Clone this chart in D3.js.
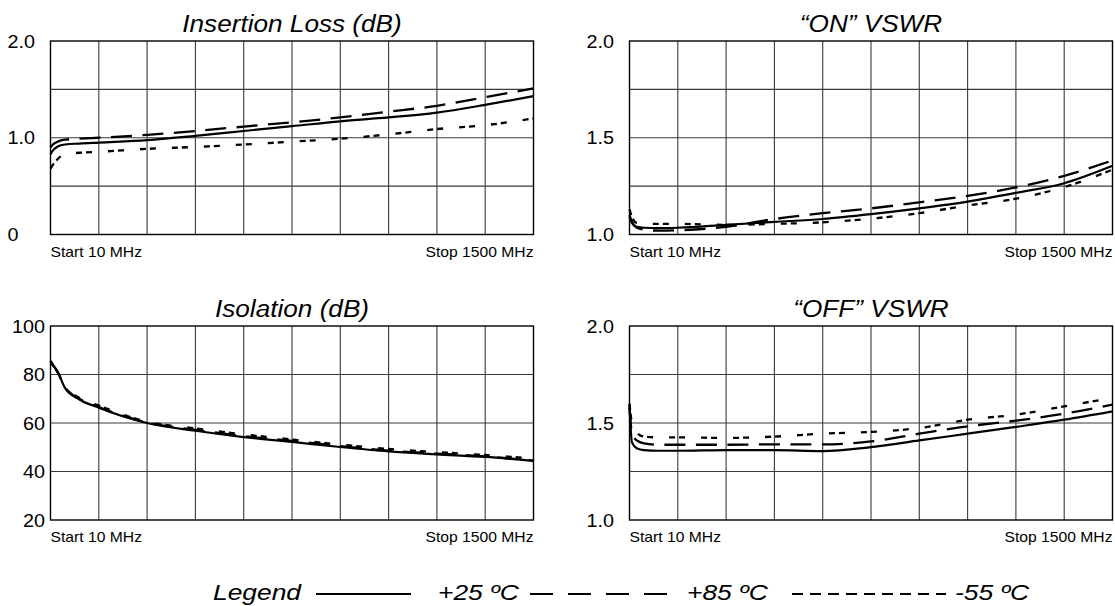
<!DOCTYPE html>
<html><head><meta charset="utf-8">
<script src="https://cdn.jsdelivr.net/npm/d3@7/dist/d3.min.js"></script>
<style>body{margin:0;background:#fff}svg{display:block}</style>
</head><body>
<svg id="chart" width="1115" height="606"></svg>
<script>
// ---- data (frequency sweep 10 MHz .. 1500 MHz) ----
const freqMHz = [10, 17.45, 32.35, 54.7, 99.4, 159, 308, 457, 606, 755, 904, 1053, 1202, 1351, 1500];

const insLoss25  = [0.83, 0.87, 0.91, 0.93, 0.94, 0.95, 0.975, 1.02, 1.07, 1.12, 1.17, 1.21, 1.26, 1.34, 1.43];
const insLoss85  = [0.90, 0.93, 0.96, 0.98, 0.99, 1.00, 1.03, 1.07, 1.115, 1.16, 1.21, 1.27, 1.33, 1.42, 1.51];
const insLossM55 = [0.68, 0.72, 0.78, 0.83, 0.845, 0.855, 0.885, 0.905, 0.93, 0.96, 0.99, 1.035, 1.09, 1.13, 1.20];

const onVswr25  = [1.09, 1.06, 1.04, 1.035, 1.033, 1.035, 1.05, 1.065, 1.08, 1.105, 1.135, 1.17, 1.215, 1.265, 1.355];
const onVswr85  = [1.10, 1.065, 1.035, 1.025, 1.02, 1.022, 1.04, 1.08, 1.11, 1.135, 1.166, 1.20, 1.243, 1.303, 1.383];
const onVswrM55 = [1.13, 1.09, 1.06, 1.055, 1.055, 1.055, 1.05, 1.055, 1.063, 1.082, 1.11, 1.15, 1.185, 1.245, 1.335];

const isol25  = [85.5, 84.0, 81.0, 74.5, 69.7, 66.3, 60.0, 56.8, 54.2, 52.2, 50.1, 48.3, 47.1, 46.0, 44.4];
const isol85  = [85.5, 84.0, 81.0, 74.7, 70.0, 66.6, 60.2, 57.2, 54.6, 52.6, 50.5, 48.6, 47.4, 46.2, 44.5];
const isolM55 = [85.3, 83.8, 80.8, 74.8, 70.3, 67.2, 60.5, 57.8, 55.3, 53.2, 51.1, 49.3, 48.0, 46.8, 45.3];

const offVswr25  = [1.595, 1.40, 1.37, 1.36, 1.357, 1.357, 1.36, 1.36, 1.355, 1.376, 1.41, 1.445, 1.48, 1.517, 1.56];
const offVswr85  = [1.58, 1.45, 1.41, 1.395, 1.388, 1.388, 1.388, 1.39, 1.39, 1.405, 1.445, 1.483, 1.512, 1.548, 1.595];
const offVswrM55 = [1.60, 1.50, 1.45, 1.43, 1.426, 1.426, 1.423, 1.43, 1.445, 1.454, 1.474, 1.517, 1.543, 1.586, 1.63];

const panelTitles = ["Insertion Loss (dB)", "\u201CON\u201D VSWR", "Isolation (dB)", "\u201COFF\u201D VSWR"];
const yDomains = [[0, 2], [1, 2], [20, 100], [1, 2]];
const yTickValues = [[2, 1, 0], [2, 1.5, 1], [100, 80, 60, 40, 20], [2, 1.5, 1]];
const yTickLabels = [["2.0", "1.0", "0"], ["2.0", "1.5", "1.0"], ["100", "80", "60", "40", "20"], ["2.0", "1.5", "1.0"]];
const startLabel = "Start 10 MHz";
const stopLabel = "Stop 1500 MHz";
const xStart = 10, xStop = 1500, xDivisions = 10, yDivisions = 4;

const seriesNames = ["+25 \u00BAC", "+85 \u00BAC", "-55 \u00BAC"];
const panelSeries = [
  [insLoss25, insLoss85, insLossM55],
  [onVswr25, onVswr85, onVswrM55],
  [isol25, isol85, isolM55],
  [offVswr25, offVswr85, offVswrM55]
];

// ---- layout / style ----
const layouts = [
  {left: 50.5, top: 41, w: 483, h: 193.5, labelMode: "start"},
  {left: 629.5, top: 41, w: 483, h: 193.5, labelMode: "start"},
  {left: 50.5, top: 326, w: 483, h: 194, labelMode: "end"},
  {left: 629.5, top: 326, w: 483, h: 194, labelMode: "end3"}
];
const dashStyles = [null, "21,10.5", "6,4,6,16"];
const FONT = "'Liberation Sans', Arial, Helvetica, sans-serif";

const svg = d3.select("#chart");

function stretchedText(g, x, y, txt, size, sx, anchor, italic) {
  return g.append("text")
    .attr("transform", `translate(${x},${y}) scale(${sx},1)`)
    .attr("text-anchor", anchor)
    .attr("font-family", FONT)
    .attr("font-size", size)
    .attr("font-style", italic ? "italic" : "normal")
    .attr("fill", "#000")
    .text(txt);
}

layouts.forEach((L, i) => {
  const g = svg.append("g");
  const x = d3.scaleLinear().domain([xStart, xStop]).range([L.left, L.left + L.w]);
  const y = d3.scaleLinear().domain(yDomains[i]).range([L.top + L.h, L.top]);

  // grid
  const xGrid = d3.range(1, xDivisions).map(k => xStart + (xStop - xStart) * k / xDivisions);
  const [y0, y1] = yDomains[i];
  const yGrid = d3.range(1, yDivisions).map(k => y0 + (y1 - y0) * k / yDivisions);
  g.selectAll(".vg").data(xGrid).join("line")
    .attr("x1", d => x(d)).attr("x2", d => x(d))
    .attr("y1", L.top).attr("y2", L.top + L.h)
    .attr("stroke", "#3a3a3a").attr("stroke-width", 1.1);
  g.selectAll(".hg").data(yGrid).join("line")
    .attr("x1", L.left).attr("x2", L.left + L.w)
    .attr("y1", d => y(d)).attr("y2", d => y(d))
    .attr("stroke", "#3a3a3a").attr("stroke-width", 1.1);
  g.append("rect")
    .attr("x", L.left).attr("y", L.top).attr("width", L.w).attr("height", L.h)
    .attr("fill", "none").attr("stroke", "#000").attr("stroke-width", 1.4);

  // curves
  const line = d3.line().x((d, k) => x(freqMHz[k])).y(d => y(d)).curve(d3.curveMonotoneX);
  panelSeries[i].slice().reverse().forEach((vals, rk) => {
    const s = 2 - rk;
    g.append("path").attr("d", line(vals))
      .attr("fill", "none").attr("stroke", "#000")
      .attr("stroke-width", s === 0 ? 2.2 : 2.3)
      .attr("stroke-dasharray", dashStyles[s]);
  });

  // y tick labels
  yTickValues[i].forEach((v, k) => {
    const lbl = yTickLabels[i][k];
    if (i === 2) stretchedText(g, L.left - 5.5, y(v) + 6.5, lbl, 18, 1.1, "end", false);
    else stretchedText(g, L.left - 43, y(v) + 6.5, lbl, 18, 1.1, "start", false);
  });

  // start / stop
  stretchedText(g, L.left, L.top + L.h + 22, startLabel, 14, 1.12, "start", false);
  stretchedText(g, L.left + L.w, L.top + L.h + 22, stopLabel, 14, 1.12, "end", false);

  // title
  stretchedText(g, L.left + L.w / 2, L.top - 9, panelTitles[i], 24, 1.09, "middle", true);
});

// legend
const lg = svg.append("g");
const legY = 600;
stretchedText(lg, 213, legY, "Legend", 22, 1.2, "start", true);
const legendItems = [
  {x1: 316, x2: 411, tx: 438},
  {x1: 530, x2: 672, tx: 687},
  {x1: 792, x2: 946, tx: 955}
];
const legendDash = [null, "23,15", "11,7"];
legendItems.forEach((it, k) => {
  lg.append("line").attr("x1", it.x1).attr("x2", it.x2).attr("y1", legY - 6).attr("y2", legY - 6)
    .attr("stroke", "#000").attr("stroke-width", 1.8)
    .attr("stroke-dasharray", legendDash[k]);
  stretchedText(lg, it.tx, legY, seriesNames[k], 22, 1.2, "start", true);
});
</script>
</body></html>
